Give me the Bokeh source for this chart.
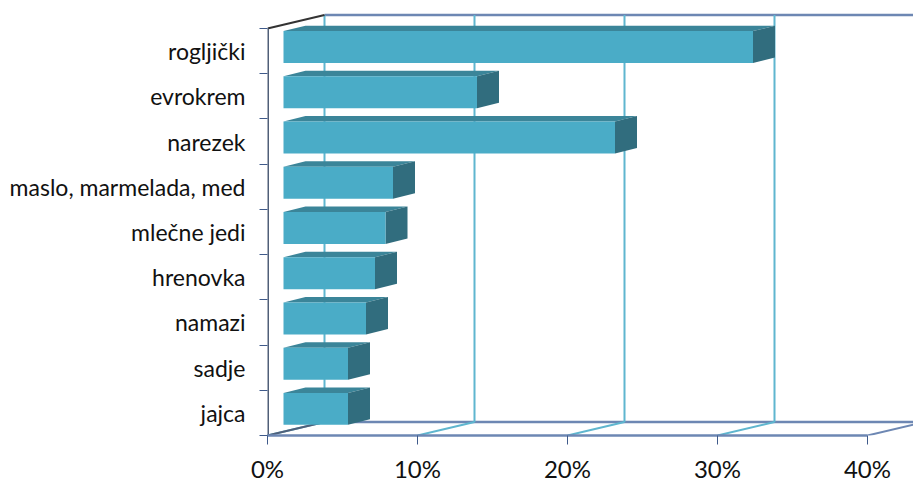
from bokeh.plotting import figure
from bokeh.embed import file_html
from bokeh.resources import INLINE
from bokeh.models import FixedTicker, LinearAxis, Range1d

categories = ["rogljički", "evrokrem", "narezek", "maslo, marmelada, med", "mlečne jedi",
              "hrenovka", "namazi", "sadje", "jajca"]
values = [31.3, 12.9, 22.1, 7.3, 6.8, 6.1, 5.5, 4.3, 4.3]
x_ticks = [0, 10, 20, 30, 40]
x_labels = ["0%", "10%", "20%", "30%", "40%"]

n = len(categories)
PX = 15.0            # pixels per percent
PY = 45.33           # pixels per category slot
DX, DY = 57 / PX, 13.5 / PY      # wall depth
BX, BY = 22 / PX, 5.5 / PY       # bar depth
B0 = 16 / PX                     # bar start offset into the floor
BH = 32 / PY                     # bar front height
BC = 4 / PY                      # bar centre lift within its slot

FRONT, TOP, SIDE = "#4aacc7", "#3b8599", "#316d7e"
GRID, WALL, AXIS = "#5fb6cf", "#6d87b3", "#4a5f86"

W, H = 913, 485
LEFT, BOTTOM = 267, 49
xmax = (W - LEFT) / PX
p = figure(width=W, height=H, output_backend="svg", toolbar_location=None,
           x_range=Range1d(0, xmax), y_range=Range1d(0, (H - BOTTOM) / PY),
           x_axis_type=None, y_axis_type=None,
           min_border_left=LEFT, min_border_bottom=BOTTOM, min_border_right=0, min_border_top=0)
p.outline_line_color = None
p.grid.visible = False
p.background_fill_color = "white"

# floor and back wall
p.segment(x0=[DX], y0=[DY], x1=[xmax], y1=[DY], line_color=WALL, line_width=2.5)
p.segment(x0=[DX], y0=[n + DY], x1=[xmax], y1=[n + DY], line_color=WALL, line_width=2.5)
for t in x_ticks:
    col = WALL if t == 40 else GRID
    p.segment(x0=[t], y0=[0], x1=[t + DX], y1=[DY], line_color=col, line_width=2)
    if t != 40:
        p.segment(x0=[t + DX], y0=[DY], x1=[t + DX], y1=[n + DY], line_color=GRID, line_width=2)
p.segment(x0=[0], y0=[0], x1=[DX], y1=[DY], line_color="#50607a", line_width=2)
p.segment(x0=[0], y0=[n], x1=[DX], y1=[n + DY], line_color="#333333", line_width=2)
p.segment(x0=[0], y0=[0], x1=[0], y1=[n], line_color="#505f78", line_width=3)

# bars
for i, v in enumerate(values):
    slot = n - i - 0.5
    y0 = slot + BC - BH / 2
    y1 = slot + BC + BH / 2
    x0, x1 = B0, B0 + v
    p.patch([x0, x1, x1 + BX, x0 + BX], [y1, y1, y1 + BY, y1 + BY], fill_color=TOP, line_color=None)
    p.patch([x1, x1 + BX, x1 + BX, x1], [y0, y0 + BY, y1 + BY, y1], fill_color=SIDE, line_color=None)
    p.quad(left=x0, right=x1, bottom=y0, top=y1, fill_color=FRONT, line_color=None)

# axes
yax = LinearAxis(bounds=(0, n))
yax.ticker = FixedTicker(ticks=[n - i - 0.5 for i in range(n)], minor_ticks=list(range(n + 1)))
yax.major_label_overrides = {n - i - 0.5: c for i, c in enumerate(categories)}
yax.major_tick_line_color = None
yax.major_tick_out = 0
yax.major_tick_in = 0
yax.minor_tick_out = 8
yax.minor_tick_in = 0
yax.minor_tick_line_color = "#3f5a8a"
yax.axis_line_color = None
yax.major_label_standoff = 14
yax.major_label_text_font = "Lato"
yax.major_label_text_font_size = "23px"
yax.major_label_text_color = "#111111"
p.add_layout(yax, "left")

xax = LinearAxis(bounds=(0, 40))
xax.ticker = FixedTicker(ticks=x_ticks)
xax.major_label_overrides = dict(zip(x_ticks, x_labels))
xax.major_tick_out = 9
xax.major_tick_in = 0
xax.major_tick_line_color = "#3f5a8a"
xax.minor_tick_line_color = None
xax.axis_line_color = WALL
xax.axis_line_width = 2.5
xax.major_label_standoff = 9
xax.major_label_text_font = "Lato"
xax.major_label_text_font_size = "24px"
xax.major_label_text_color = "#111111"
p.add_layout(xax, "below")

open("out.html", "w").write(file_html(p, INLINE))
